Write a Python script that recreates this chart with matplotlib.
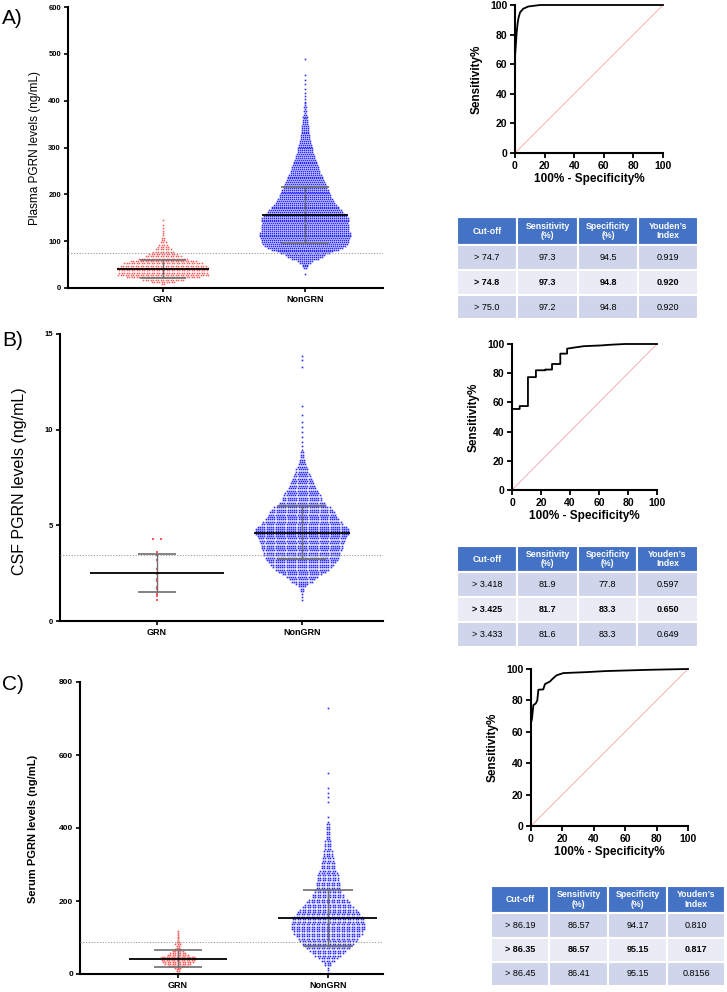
import matplotlib
matplotlib.use("Agg")
import matplotlib.pyplot as plt
from matplotlib.patches import Rectangle
import numpy as np

plt.rcParams['font.family'] = ['Liberation Sans', 'DejaVu Sans']

# ---------------- data ----------------
groups = ["GRN", "NonGRN"]

# Panel A (plasma): histogram counts
plasma_grn_edges = list(range(0, 160, 10))
plasma_grn_counts = [2, 27, 67, 72, 72, 59, 35, 21, 12, 7, 4, 2, 2, 1, 1]
plasma_non_edges = list(range(20, 520, 20))
plasma_non_counts = [1, 22, 105, 200, 227, 219, 214, 175, 139, 117, 96, 75, 58, 43, 31, 22,
                     17, 10, 6, 3, 2, 2, 0, 1]
plasma_mean = [41, 156]
plasma_sd = [19.5, 60]
plasma_cut = 74.8

# Panel B (CSF)
csf_grn_values = [4.30, 4.28, 3.59, 3.45, 3.20, 2.70, 2.45, 2.18, 2.10, 1.80, 1.68, 1.40, 1.32, 1.08]
csf_non_edges = [1.0 + 0.5 * i for i in range(27)]
csf_non_counts = [3, 14, 55, 103, 133, 145, 158, 170, 139, 115, 79, 61, 42, 27, 15, 7,
                  2, 2, 2, 1, 1, 0, 0, 0, 1, 2]
csf_mean = [2.5, 4.62]
csf_sd = [1.0, 1.38]
csf_cut = 3.425

# Panel C (serum)
serum_grn_edges = list(range(0, 130, 10))
serum_grn_counts = [3, 5, 19, 27, 29, 16, 8, 4, 5, 2, 2, 2]
serum_non_edges = list(range(0, 760, 20))
serum_non_counts = [3, 12, 32, 52, 68, 82, 90, 86, 74, 58, 42, 32, 29, 26, 19, 16, 12, 9, 7,
                    6, 5, 1, 0, 1, 2, 1, 0, 1, 0, 0, 0, 0, 0, 0, 0, 0, 1]
serum_mean = [42, 153]
serum_sd = [22.8, 77.6]
serum_cut = 86.35

# ROC curves
rocA_x = [0, 0, 0.7, 1.1, 1.7, 2.3, 3.4, 5.6, 9, 17, 100]
rocA_y = [0, 65, 75, 81, 87, 91, 95, 97.5, 99, 100, 100]
rocB_x = [0, 0, 5.3, 5.3, 11, 11, 16.5, 16.5, 23, 23, 27.6, 27.6, 33.3, 33.3, 38, 38,
          42.5, 49.4, 61, 68, 78, 100]
rocB_y = [0, 55.5, 55.5, 57.5, 57.5, 77.3, 77.3, 82, 82, 82.5, 82.5, 86.3, 86.3, 93.4,
          93.4, 96.8, 97.5, 98.5, 99, 99.5, 100, 100]
rocC_x = [0, 0, 0.6, 1.5, 3, 4, 4.7, 7.8, 8.9, 12, 14, 16.3, 20.6, 35, 48, 75.6, 100]
rocC_y = [0, 66, 68, 77, 78, 80, 86.8, 87, 90.4, 92, 94, 96, 97.4, 98, 98.7, 99.5, 100]
roc_ticks = [0, 20, 40, 60, 80, 100]

# Tables
tbl_header = ["Cut-off", "Sensitivity\n(%)", "Specificity\n(%)", "Youden\u2019s\nIndex"]
tblA_cut = ["> 74.7", "> 74.8", "> 75.0"]
tblA_sens = ["97.3", "97.3", "97.2"]
tblA_spec = ["94.5", "94.8", "94.8"]
tblA_youden = ["0.919", "0.920", "0.920"]
tblB_cut = ["> 3.418", "> 3.425", "> 3.433"]
tblB_sens = ["81.9", "81.7", "81.6"]
tblB_spec = ["77.8", "83.3", "83.3"]
tblB_youden = ["0.597", "0.650", "0.649"]
tblC_cut = ["> 86.19", "> 86.35", "> 86.45"]
tblC_sens = ["86.57", "86.57", "86.41"]
tblC_spec = ["94.17", "95.15", "95.15"]
tblC_youden = ["0.810", "0.817", "0.8156"]

# ---------------- figure ----------------
W, H = 727, 992
fig = plt.figure(figsize=(W / 100, H / 100), dpi=100)


def add_ax(l, t, r, b):
    return fig.add_axes([l / W, 1 - b / H, (r - l) / W, (b - t) / H])


BLUE = '#2b2bf7'
RED = '#f45a5a'
SDGRAY = '#6e6e6e'


def swarm(ax, xc, edges, counts, row_units, dx, color, ms):
    """Lay out binned counts as rows of dots (GraphPad-like scatter dot plot)."""
    edges = np.asarray(edges, float)
    counts = np.asarray(counts, float)
    nrows_all = np.maximum(1, np.round(np.diff(edges) / row_units)).astype(int)
    centers = (edges[:-1] + edges[1:]) / 2
    dens = counts / nrows_all
    xs, ys = [], []
    for k, (lo, hi, n) in enumerate(zip(edges[:-1], edges[1:], counts.astype(int))):
        if n == 0:
            continue
        nrows = nrows_all[k]
        if n < nrows:
            for i in range(n):
                xs.append(xc)
                ys.append(lo + (i + 0.5) * (hi - lo) / n)
            continue
        yrows = lo + (np.arange(nrows) + 0.5) * (hi - lo) / nrows
        w = np.interp(yrows, centers, dens)
        w = np.maximum(w, 0.3)
        w = w / w.sum() * n
        cum = np.round(np.cumsum(w)).astype(int)
        ms_row = np.diff(np.concatenate([[0], cum]))
        for y, m in zip(yrows, ms_row):
            for j in range(m):
                xs.append(xc + (j - (m - 1) / 2) * dx)
                ys.append(y)
    ax.plot(xs, ys, ls='none', marker='s', ms=ms, mew=0, color=color, zorder=2)


def style_scatter(ax, ylim, yticks, fs):
    ax.set_ylim(*ylim)
    ax.set_yticks(yticks)
    ax.set_xticks([0, 1])
    ax.set_xticklabels(groups)
    for s in ['top', 'right']:
        ax.spines[s].set_visible(False)
    for s in ['left', 'bottom']:
        ax.spines[s].set_linewidth(1.5)
    ax.tick_params(direction='out', length=3, width=1.2, pad=2)
    ax.tick_params(axis='y', labelsize=fs)
    ax.tick_params(axis='x', labelsize=6.5)
    for lab in ax.get_xticklabels() + ax.get_yticklabels():
        lab.set_fontweight('bold')


def mean_sd(ax, means, sds, hw_mean, hw_sd):
    for i, (m, s) in enumerate(zip(means, sds)):
        ax.vlines(i, m - s, m + s, color=SDGRAY, lw=1.0, zorder=4)
        ax.hlines([m - s, m + s], i - hw_sd[i], i + hw_sd[i], color=SDGRAY, lw=1.2, zorder=4)
        ax.hlines(m, i - hw_mean[i], i + hw_mean[i], color='black', lw=1.3, zorder=5)


# ---- Panel A scatter ----
axA = add_ax(68, 7, 383, 288)
axA.set_xlim(-0.669, 1.549)
swarm(axA, 0, plasma_grn_edges, plasma_grn_counts, 4.27, 0.0176, RED, 1.1)
swarm(axA, 1, plasma_non_edges, plasma_non_counts, 4.27, 0.0141, BLUE, 1.15)
axA.axhline(plasma_cut, color='#9a9a9a', ls=(0, (1, 1.5)), lw=0.8, zorder=3)
mean_sd(axA, plasma_mean, plasma_sd, [0.327, 0.30], [0.165, 0.17])
style_scatter(axA, (0, 600), [0, 100, 200, 300, 400, 500, 600], 5.5)
fig.text(35 / W, 1 - 148 / H, "Plasma PGRN levels (ng/mL)", rotation=90,
         ha='center', va='center', fontsize=8.5)

# ---- Panel B scatter ----
axB = add_ax(60, 334, 383, 621)
axB.set_xlim(-0.669, 1.559)
grn_x = [0.0] * len(csf_grn_values)
for k in range(1, len(csf_grn_values)):
    if abs(csf_grn_values[k] - csf_grn_values[k - 1]) < 0.05:
        grn_x[k - 1] = -0.025
        grn_x[k] = 0.025
axB.plot(grn_x, csf_grn_values, ls='none', marker='s', ms=1.5, mew=0, color=RED, zorder=3)
swarm(axB, 1, csf_non_edges, csf_non_counts, 0.115, 0.0152, BLUE, 1.2)
axB.axhline(csf_cut, color='#9a9a9a', ls=(0, (1, 1.5)), lw=0.8, zorder=3)
mean_sd(axB, csf_mean, csf_sd, [0.459, 0.334], [0.134, 0.169])
style_scatter(axB, (0, 15), [0, 5, 10, 15], 5.5)
fig.text(20 / W, 1 - 481 / H, "CSF PGRN levels (ng/mL)", rotation=90,
         ha='center', va='center', fontsize=11.5)

# ---- Panel C scatter ----
axC = add_ax(80, 682, 383, 974)
axC.set_xlim(-0.653, 1.367)
swarm(axC, 0, serum_grn_edges, serum_grn_counts, 6.5, 0.0167, RED, 1.2)
swarm(axC, 1, serum_non_edges, serum_non_counts, 6.5, 0.0167, BLUE, 1.2)
axC.axhline(serum_cut, color='#9a9a9a', ls=(0, (1, 1.5)), lw=0.8, zorder=3)
mean_sd(axC, serum_mean, serum_sd, [0.327, 0.33], [0.16, 0.167])
style_scatter(axC, (0, 800), [0, 200, 400, 600, 800], 6)
fig.text(33 / W, 1 - 829 / H, "Serum PGRN levels (ng/mL)", rotation=90,
         ha='center', va='center', fontsize=8, fontweight='bold')

# Panel letters
for lab, y in [("A)", 18), ("B)", 340), ("C)", 685)]:
    fig.text(2 / W, 1 - y / H, lab, ha='left', va='center', fontsize=15)


# ---- ROC curves ----
def roc(l, t, r, b, xs, ys, ylab_x):
    ax = add_ax(l, t, r, b)
    ax.plot([0, 100], [0, 100], color='#f4a3a3', lw=0.6, zorder=2, clip_on=False)
    ax.plot(xs, ys, color='black', lw=1.3, zorder=3, clip_on=False)
    ax.set_xlim(0, 100)
    ax.set_ylim(0, 100)
    ax.set_xticks(roc_ticks)
    ax.set_yticks(roc_ticks)
    for s in ['top', 'right']:
        ax.spines[s].set_visible(False)
    for s in ['left', 'bottom']:
        ax.spines[s].set_linewidth(1.5)
    ax.tick_params(direction='out', length=3.5, width=1.3, pad=2, labelsize=7.5)
    for lab in ax.get_xticklabels() + ax.get_yticklabels():
        lab.set_fontweight('bold')
    ax.set_xlabel("100% - Specificity%", fontsize=8.5, fontweight='bold', labelpad=2)
    fig.text(ylab_x / W, 1 - (t + b) / 2 / H, "Sensitivity%", rotation=90,
             ha='center', va='center', fontsize=8.5, fontweight='bold')
    return ax


roc(515, 5, 663, 153, rocA_x, rocA_y, 477)
roc(512, 344, 657, 490, rocB_x, rocB_y, 474)
roc(531, 669, 688, 826, rocC_x, rocC_y, 493)

# ---- Tables ----
tax = fig.add_axes([0, 0, 1, 1])
tax.set_xlim(0, W)
tax.set_ylim(H, 0)
tax.axis('off')


def table(cols, top, hdr_b, row_bs, columns):
    for c in range(4):
        x0, x1 = cols[c], cols[c + 1]
        tax.add_patch(Rectangle((x0, top), x1 - x0, hdr_b - top, facecolor='#4472c4',
                                edgecolor='white', lw=1.5))
        tax.text((x0 + x1) / 2, (top + hdr_b) / 2, tbl_header[c], ha='center', va='center',
                 fontsize=6.3, fontweight='bold', color='white', linespacing=1.05)
        prev = hdr_b
        for r, rb in enumerate(row_bs):
            fc = '#e9ebf5' if r == 1 else '#cfd5ea'
            tax.add_patch(Rectangle((x0, prev), x1 - x0, rb - prev, facecolor=fc,
                                    edgecolor='white', lw=1.5))
            tax.text((x0 + x1) / 2, (prev + rb) / 2, columns[c][r], ha='center', va='center',
                     fontsize=6.5, fontweight='bold' if r == 1 else 'normal', color='black')
            prev = rb


table([457, 517, 578, 638, 698], 217, 245, [270, 295, 319],
      [tblA_cut, tblA_sens, tblA_spec, tblA_youden])
table([457, 517, 578, 637, 698], 546, 572, [597, 622, 647],
      [tblB_cut, tblB_sens, tblB_spec, tblB_youden])
table([491, 549, 608, 667, 725], 886, 913, [938, 962, 986],
      [tblC_cut, tblC_sens, tblC_spec, tblC_youden])

fig.savefig("out.png", dpi=100)
